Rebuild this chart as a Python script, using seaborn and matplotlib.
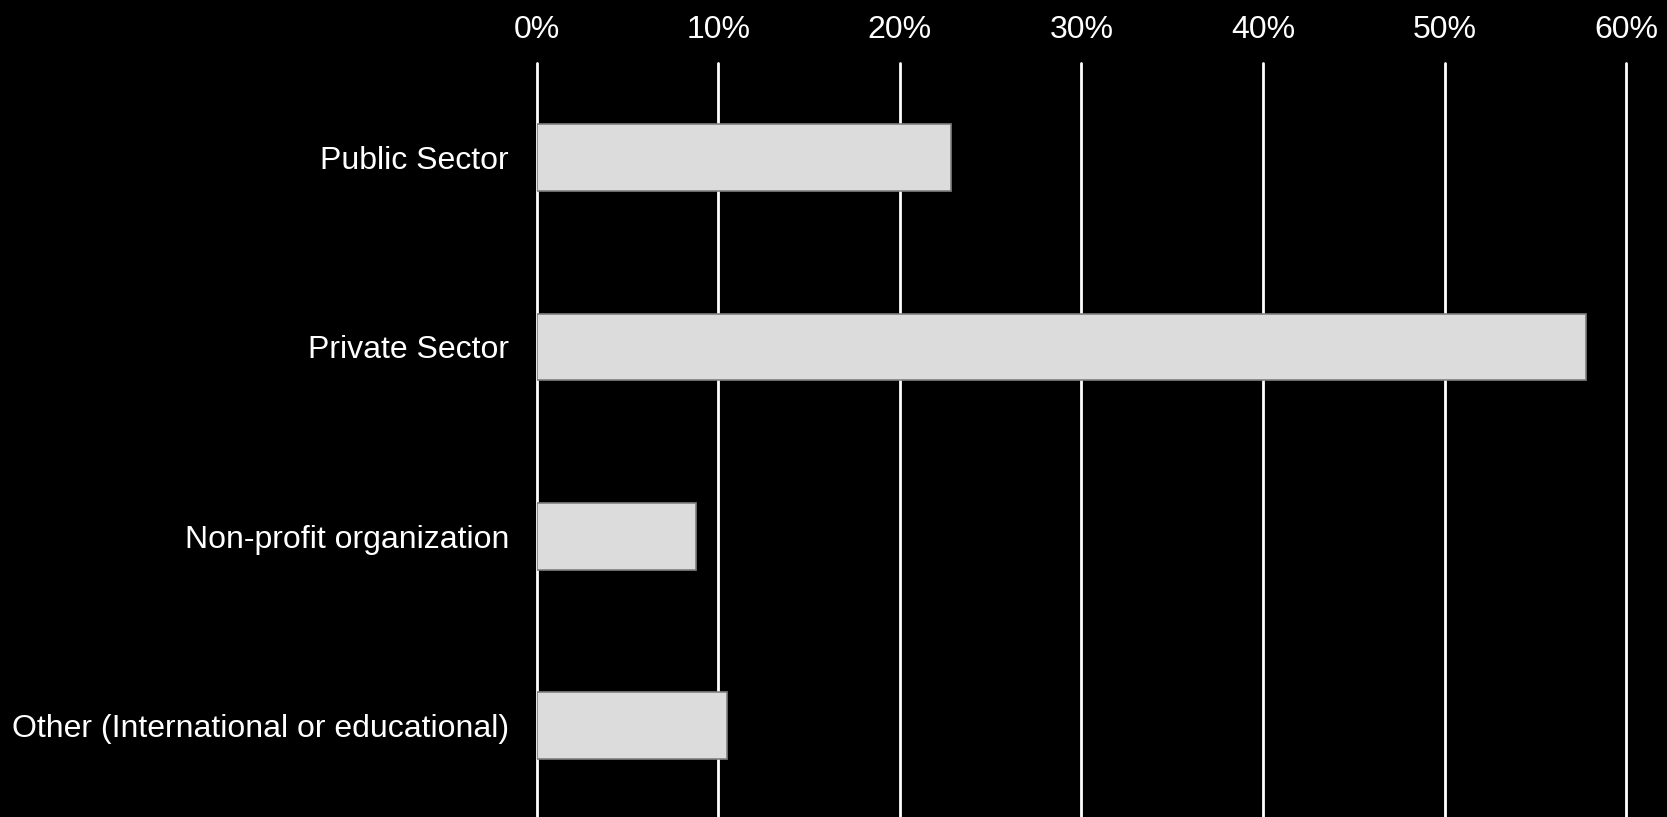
import pandas as pd
import seaborn as sns
import matplotlib.pyplot as plt
from matplotlib.ticker import PercentFormatter

##########
## Data ##
##########

sectors = ["Public Sector", "Private Sector", "Non-profit organization",
           "Other (International or educational)"]
shares = [22.8, 57.8, 8.75, 10.5]
ticks = [0, 10, 20, 30, 40, 50, 60]

df = pd.DataFrame({"sector": sectors, "share": shares})

###########
## Chart ##
###########

sns.set_style("dark")
plt.rcParams['font.family'] = ['Liberation Sans', 'DejaVu Sans']

fig = plt.figure(figsize=(16.67, 8.17), dpi=100, facecolor="black")
ax = fig.add_axes([0.322, -0.004, 0.6535, 0.927])
ax.set_facecolor("black")

sns.barplot(data=df, x="share", y="sector", orient="h", ax=ax,
            color="#dcdcdc", saturation=1, width=0.352,
            edgecolor="#808080", linewidth=1.2)

ax.set_xlim(0, 60)
ax.set_ylim(3.5, -0.5)
ax.set_xticks(ticks)
ax.xaxis.set_major_formatter(PercentFormatter(decimals=0))
ax.xaxis.tick_top()
ax.tick_params(axis="x", length=0, pad=13, labelsize=23, colors="white")
ax.tick_params(axis="y", length=0, pad=20, labelsize=23, colors="white")
ax.set_xlabel("")
ax.set_ylabel("")

ax.set_axisbelow(True)
ax.grid(axis="x", color="white", linewidth=2)
ax.grid(axis="y", visible=False)
for line in ax.get_xgridlines():
    line.set_clip_on(False)
for s in ax.spines.values():
    s.set_visible(False)

plt.savefig("out.png", facecolor="black")
